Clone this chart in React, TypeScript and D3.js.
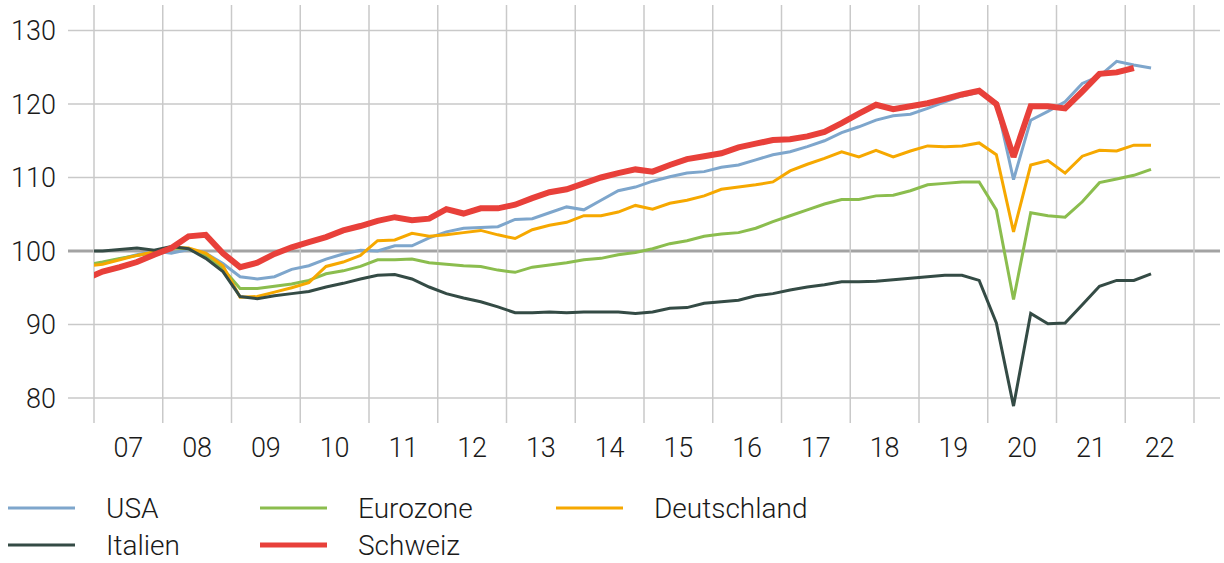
import React, { useEffect, useRef } from 'react';
import * as d3 from 'd3';

// quarterly data, 2006 Q4 to 2022 Q2 (index 2008 Q1 = 100)
const years = [2007, 2008, 2009, 2010, 2011, 2012, 2013, 2014, 2015, 2016, 2017, 2018, 2019, 2020, 2021, 2022];
const yTicks = [80, 90, 100, 110, 120, 130];

const usa = [
  98.0,
  98.4, 98.9, 99.5, 100.0,
  99.7, 100.2, 99.7, 98.3,
  96.5, 96.2, 96.5, 97.5,
  98.0, 98.9, 99.6, 100.1,
  100.0, 100.7, 100.7, 101.8,
  102.6, 103.1, 103.2, 103.3,
  104.3, 104.4, 105.2, 106.0,
  105.6, 106.9, 108.2, 108.7,
  109.5, 110.1, 110.6, 110.8,
  111.4, 111.7, 112.4, 113.1,
  113.5, 114.2, 115.0, 116.1,
  116.9, 117.8, 118.4, 118.6,
  119.4, 120.3, 121.1, 121.6,
  120.2, 109.7, 117.8, 119.0,
  120.3, 122.8, 123.8, 125.8,
  125.3, 124.9,
];

const eurozone = [
  98.1,
  98.5, 99.0, 99.4, 99.8,
  100.4, 100.3, 99.3, 97.6,
  94.9, 94.9, 95.2, 95.5,
  96.0, 96.9, 97.3, 97.9,
  98.8, 98.8, 98.9, 98.4,
  98.2, 98.0, 97.9, 97.4,
  97.1, 97.8, 98.1, 98.4,
  98.8, 99.0, 99.5, 99.8,
  100.3, 101.0, 101.4, 102.0,
  102.3, 102.5, 103.1, 104.0,
  104.8, 105.6, 106.4, 107.0,
  107.0, 107.5, 107.6, 108.2,
  109.0, 109.2, 109.4, 109.4,
  105.6, 93.4, 105.2, 104.8,
  104.6, 106.7, 109.3, 109.8,
  110.3, 111.1,
];

const deutschland = [
  97.9,
  98.2, 98.8, 99.4, 99.9,
  100.5, 100.4, 99.7, 98.0,
  93.7, 93.8, 94.4, 95.0,
  95.7, 97.9, 98.5, 99.4,
  101.4, 101.5, 102.4, 102.0,
  102.2, 102.5, 102.8, 102.2,
  101.7, 102.9, 103.5, 103.9,
  104.8, 104.8, 105.3, 106.2,
  105.7, 106.5, 106.9, 107.5,
  108.4, 108.7, 109.0, 109.4,
  110.9, 111.8, 112.6, 113.5,
  112.8, 113.7, 112.8, 113.6,
  114.3, 114.2, 114.3, 114.7,
  113.1, 102.6, 111.7, 112.3,
  110.6, 112.9, 113.7, 113.6,
  114.4, 114.4,
];

const italien = [
  100.0,
  100.0, 100.2, 100.4, 100.1,
  100.6, 100.3, 99.0, 97.2,
  93.8, 93.5, 93.9, 94.2,
  94.5, 95.1, 95.6, 96.2,
  96.7, 96.8, 96.2, 95.1,
  94.2, 93.6, 93.1, 92.4,
  91.6, 91.6, 91.7, 91.6,
  91.7, 91.7, 91.7, 91.5,
  91.7, 92.2, 92.3, 92.9,
  93.1, 93.3, 93.9, 94.2,
  94.7, 95.1, 95.4, 95.8,
  95.8, 95.9, 96.1, 96.3,
  96.5, 96.7, 96.7, 96.0,
  90.2, 78.9, 91.5, 90.1,
  90.2, 92.7, 95.2, 96.0,
  96.0, 96.9,
];

const schweiz = [
  96.2,
  97.2, 97.8, 98.5, 99.5,
  100.4, 102.0, 102.2, 99.7,
  97.8, 98.4, 99.6, 100.5,
  101.2, 101.9, 102.8, 103.4,
  104.1, 104.6, 104.2, 104.4,
  105.7, 105.1, 105.8, 105.8,
  106.3, 107.2, 108.0, 108.4,
  109.2, 110.0, 110.6, 111.1,
  110.8, 111.7, 112.5, 112.9,
  113.3, 114.1, 114.6, 115.1,
  115.2, 115.6, 116.2, 117.4,
  118.7, 119.9, 119.3, 119.7,
  120.1, 120.7, 121.3, 121.8,
  120.0, 112.8, 119.7, 119.7,
  119.4, 121.7, 124.1, 124.3,
  124.9,
];

interface Series {
  name: string;
  values: number[];
  color: string;
  width: number;
}

const series: Series[] = [
  { name: 'USA', values: usa, color: '#7ea6cc', width: 3 },
  { name: 'Eurozone', values: eurozone, color: '#8bbd4e', width: 3 },
  { name: 'Deutschland', values: deutschland, color: '#f6a800', width: 3 },
  { name: 'Italien', values: italien, color: '#344b45', width: 3 },
  { name: 'Schweiz', values: schweiz, color: '#e8403a', width: 6 },
];

const W = 1224;
const H = 563;
const FONT = 'Roboto, "Helvetica Neue", Arial, sans-serif';

const App: React.FC = () => {
  const ref = useRef<SVGSVGElement>(null);

  useEffect(() => {
    const svg = d3.select(ref.current);
    svg.selectAll('*').remove();

    // one unit = one year, quarter points sit in the middle of their quarter
    const x = d3.scaleLinear().domain([2007, 2023]).range([94, 1194]);
    const y = d3.scaleLinear().domain([80, 130]).range([398, 30.5]);
    const quarterTime = (i: number) => 2006.75 + i * 0.25 + 0.125;

    const gridColor = '#c9c9c9';

    // horizontal grid
    svg.append('g')
      .selectAll('line')
      .data(yTicks)
      .enter()
      .append('line')
      .attr('x1', 68)
      .attr('x2', 1220)
      .attr('y1', d => y(d))
      .attr('y2', d => y(d))
      .attr('stroke', d => (d === 100 ? '#a3a3a3' : gridColor))
      .attr('stroke-width', d => (d === 100 ? 3 : 1.5));

    // vertical grid at year boundaries
    svg.append('g')
      .selectAll('line')
      .data(d3.range(2007, 2024))
      .enter()
      .append('line')
      .attr('x1', d => x(d))
      .attr('x2', d => x(d))
      .attr('y1', 5)
      .attr('y2', 423)
      .attr('stroke', gridColor)
      .attr('stroke-width', 1.5);

    // y labels
    svg.append('g')
      .selectAll('text')
      .data(yTicks)
      .enter()
      .append('text')
      .attr('x', 56)
      .attr('y', d => y(d))
      .attr('dy', '0.36em')
      .attr('text-anchor', 'end')
      .style('font-family', FONT)
      .style('font-weight', 300)
      .style('font-size', '27px')
      .attr('fill', '#1a1a1a')
      .text(d => d);

    // x labels
    svg.append('g')
      .selectAll('text')
      .data(years)
      .enter()
      .append('text')
      .attr('x', d => x(d + 0.5))
      .attr('y', 457)
      .attr('text-anchor', 'middle')
      .style('font-family', FONT)
      .style('font-weight', 300)
      .style('font-size', '27px')
      .attr('fill', '#1a1a1a')
      .text(d => String(d % 100).padStart(2, '0'));

    svg.append('defs')
      .append('clipPath')
      .attr('id', 'plot-clip')
      .append('rect')
      .attr('x', 94)
      .attr('y', 0)
      .attr('width', 1130)
      .attr('height', 440);

    const line = d3.line<number>()
      .x((_, i) => x(quarterTime(i)))
      .y(d => y(d));

    svg.append('g')
      .attr('clip-path', 'url(#plot-clip)')
      .selectAll('path')
      .data(series)
      .enter()
      .append('path')
      .attr('d', d => line(d.values))
      .attr('fill', 'none')
      .attr('stroke', d => d.color)
      .attr('stroke-width', d => d.width)
      .attr('stroke-linejoin', 'miter')
      .attr('stroke-miterlimit', 2);

    // legend, three per row
    const legendX = [8, 260, 556];
    const legendY = [508, 545];
    const legend = svg.append('g')
      .selectAll('g')
      .data(series)
      .enter()
      .append('g')
      .attr('transform', (_, i) => `translate(${legendX[i % 3]}, ${legendY[Math.floor(i / 3)]})`);

    legend.append('line')
      .attr('x1', 0)
      .attr('x2', 67)
      .attr('stroke', d => d.color)
      .attr('stroke-width', d => (d.width > 3 ? 5 : 3));

    legend.append('text')
      .attr('x', 98)
      .attr('dy', '0.36em')
      .style('font-family', FONT)
      .style('font-weight', 300)
      .style('font-size', '28px')
      .attr('fill', '#1a1a1a')
      .text(d => d.name);
  }, []);

  return (
    <svg
      ref={ref}
      width={W}
      height={H}
      style={{ position: 'absolute', left: 0, top: 0, background: '#fff' }}
    />
  );
};

export default App;
